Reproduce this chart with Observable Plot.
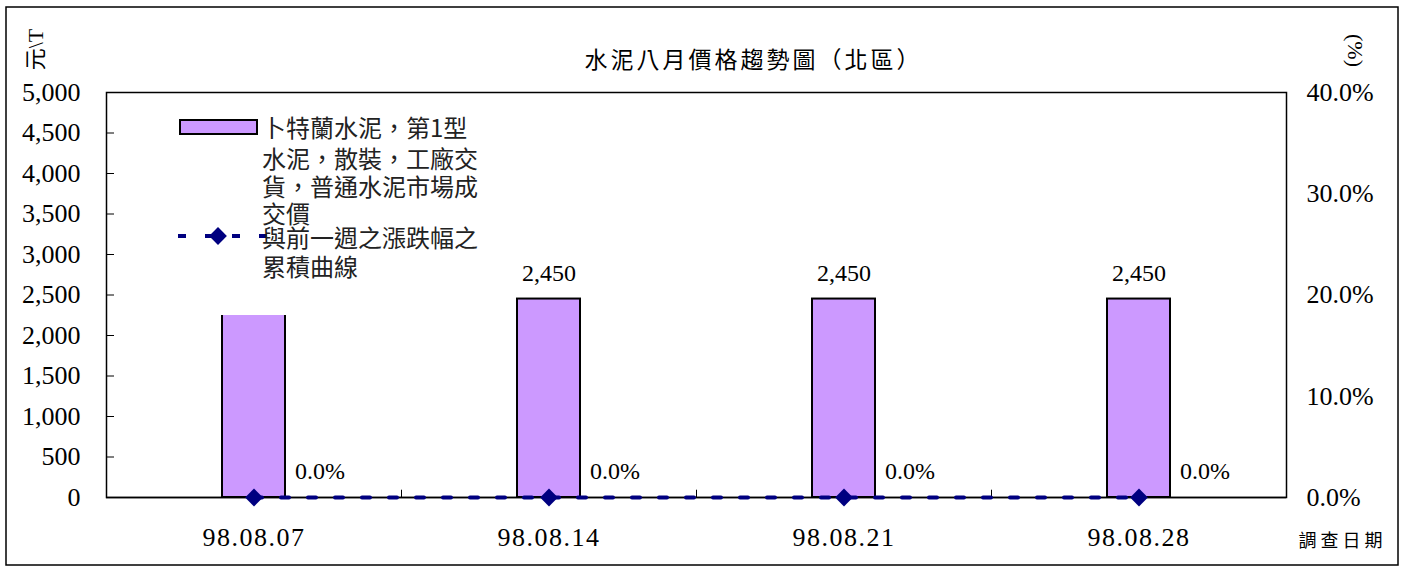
<!DOCTYPE html>
<html><head><meta charset="utf-8">
<script src="https://cdn.jsdelivr.net/npm/d3@7"></script>
<script src="https://cdn.jsdelivr.net/npm/@observablehq/plot@0.6"></script>
<style>body{margin:0;background:#fff} svg{display:block}</style>
</head><body><div id="chart"></div>
<script>
const dates = ["98.08.07", "98.08.14", "98.08.21", "98.08.28"];
const prices = [2450, 2450, 2450, 2450];
const cumChange = [0, 0, 0, 0]; // percent
const leftTicks = [0, 500, 1000, 1500, 2000, 2500, 3000, 3500, 4000, 4500, 5000];
const rightTicks = [0, 10, 20, 30, 40];
const title = "水泥八月價格趨勢圖（北區）";
const leftUnit = "元\\T";
const rightUnit = "(%)";
const xTitle = "調查日期";
const legendBarLines = ["卜特蘭水泥，第1型", "水泥，散裝，工廠交", "貨，普通水泥市場成", "交價"];
const legendLineLines = ["與前一週之漲跌幅之", "累積曲線"];

const PCT = 5000 / 40; // right-axis mapping onto left scale
const rows = dates.map((d, i) => ({date: d, price: prices[i], pct: cumChange[i]}));
const serif = "'Liberation Serif','Times New Roman','Noto Sans CJK TC',serif";
const cjk = "'Noto Sans CJK TC','Noto Sans CJK JP',sans-serif";
const fmt = d3.format(",");

const chart = Plot.plot({
  width: 1403, height: 568,
  marginLeft: 106, marginRight: 117, marginTop: 92, marginBottom: 71,
  style: {fontFamily: serif, fontSize: "24px", color: "black", background: "white", overflow: "visible"},
  x: {type: "band", domain: dates, padding: 0, label: null},
  y: {domain: [0, 5000], label: null},
  marks: [
    Plot.frame({stroke: "black", strokeWidth: 1.5}),
    Plot.axisY({ticks: leftTicks, tickFormat: fmt, tickSize: -8, tickPadding: 34, label: null, fontSize: 26}),
    Plot.axisY({anchor: "right", ticks: rightTicks.map(p => p * PCT), tickFormat: v => (v / PCT).toFixed(1) + "%", tickSize: 0, tickPadding: 20, label: null, fontSize: 26}),
    Plot.axisX({tickSize: 0, tickPadding: 30, label: null, fontSize: 26}),
    Plot.barY(rows, {x: "date", y: "price", fill: "#CC99FF", stroke: "black", strokeWidth: 2, insetLeft: 116, insetRight: 116}),
    Plot.text(rows, {x: "date", y: "price", text: d => fmt(d.price), dy: -18, lineAnchor: "bottom", fontSize: 24}),
    Plot.ruleY([0], {stroke: "black", strokeWidth: 1.5}),
    Plot.ruleX(dates.slice(1), {x: d => d, y1: 0, y2: 90, dx: -147.5, stroke: "black", strokeWidth: 1}),
    Plot.line(rows, {x: "date", y: d => d.pct * PCT, stroke: "#000080", strokeWidth: 4, strokeDasharray: "8,19"}),
    Plot.dot(rows, {x: "date", y: d => d.pct * PCT, symbol: "diamond2", r: 8, fill: "#000080", stroke: "none"}),
    Plot.text(rows, {x: "date", y: d => d.pct * PCT, text: d => d.pct.toFixed(1) + "%", dx: 66, dy: -26, fontSize: 24}),
    Plot.text([title], {text: d => d, frameAnchor: "top", textAnchor: "middle", lineAnchor: "middle", dx: 57, dy: -32, fontFamily: cjk, fontSize: 23}),
    Plot.text([leftUnit], {text: d => d, frameAnchor: "top-left", textAnchor: "middle", lineAnchor: "middle", dx: -71, dy: -43, rotate: -90, fontSize: 22}),
    Plot.text([rightUnit], {text: d => d, frameAnchor: "top-right", textAnchor: "middle", lineAnchor: "middle", dx: 69, dy: -42, rotate: 90, fontSize: 22}),
    Plot.text([xTitle], {text: d => d, frameAnchor: "bottom-right", textAnchor: "middle", lineAnchor: "middle", dx: 56, dy: 44, fontFamily: cjk, fontSize: 18})
  ]
});

const svg = d3.select(chart);
svg.selectAll("text").filter(function () { return this.textContent === title; }).style("letter-spacing", "3px");
svg.selectAll("text").filter(function () { return this.textContent === xTitle; }).style("letter-spacing", "4px");
svg.selectAll("text").filter(function () { return dates.includes(this.textContent); }).style("letter-spacing", "1.5px");

// outer border
svg.append("rect").attr("x", 6).attr("y", 7).attr("width", 1392).attr("height", 558)
  .attr("fill", "none").attr("stroke", "black").attr("stroke-width", 1.5);

// legend
const lg = svg.append("g");
lg.append("rect").attr("x", 168).attr("y", 106).attr("width", 322).attr("height", 209).attr("fill", "white");
lg.append("rect").attr("x", 180).attr("y", 120).attr("width", 77).attr("height", 14)
  .attr("fill", "#CC99FF").attr("stroke", "black").attr("stroke-width", 2);
lg.append("line").attr("x1", 178).attr("x2", 267).attr("y1", 236).attr("y2", 236)
  .attr("stroke", "#000080").attr("stroke-width", 4).attr("stroke-dasharray", "8,19");
lg.append("path").attr("d", d3.symbol(d3.symbolDiamond2, Math.PI * 64)()).attr("transform", "translate(218,236)").attr("fill", "#000080");
const tl = lg.append("g").attr("font-family", cjk).attr("font-size", 24).attr("fill", "#222").attr("text-anchor", "start");
const baselines1 = [137, 168, 196, 223];
legendBarLines.forEach((t, i) => tl.append("text").attr("x", 262).attr("y", baselines1[i]).text(t));
const baselines2 = [247, 276];
legendLineLines.forEach((t, i) => tl.append("text").attr("x", 262).attr("y", baselines2[i]).text(t));

document.getElementById("chart").appendChild(chart);
</script>
</body></html>
